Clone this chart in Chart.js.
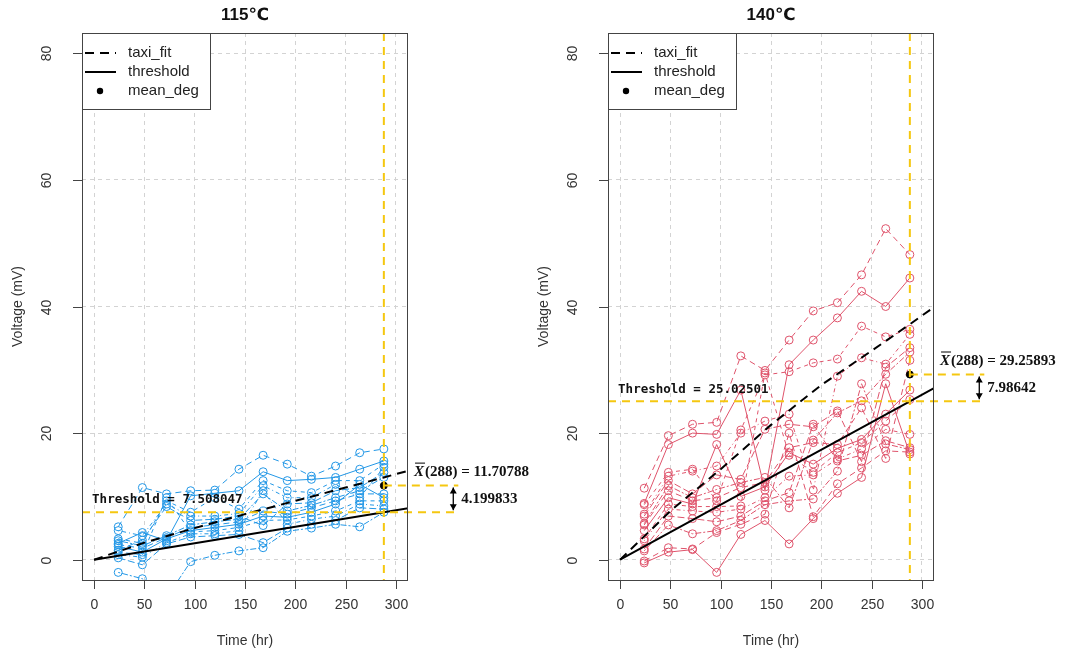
<!DOCTYPE html>
<html lang="en">
<head>
<meta charset="UTF-8">
<title>Degradation paths 115 / 140</title>
<script src="https://cdn.jsdelivr.net/npm/chart.js"></script>
<style>
  body { margin: 0; background: #fff; }
  #wrap { position: relative; width: 1075px; height: 659px; }
  canvas { position: absolute; top: 0; }
</style>
</head>
<body>
<div id="wrap">
  <canvas id="c115" width="549" height="659" style="left:0"></canvas>
  <canvas id="c140" width="549" height="659" style="left:526px"></canvas>
</div>
<script>
// measurement times and axis ticks
const times = [24, 48, 72, 96, 120, 144, 168, 192, 216, 240, 264, 288];
const xTicks = [0, 50, 100, 150, 200, 250, 300];
const yTicks = [0, 20, 40, 60, 80];

// 115 C degradation paths (one row per unit)
const paths115 = [
  [5.2, 11.4, 10.4, 10.9, 11.0, 14.3, 16.5, 15.1, 13.2, 14.8, 16.9, 17.5],
  [2.6, 4.3, 3.0, 10.1, 10.5, 10.9, 13.9, 12.5, 12.7, 13.0, 14.3, 15.6],
  [3.3, 2.6, 9.3, 7.5, 9.8, 8.0, 12.5, 10.9, 10.6, 12.5, 12.5, 15.1],
  [4.6, 3.8, 8.8, 6.9, 6.9, 7.3, 11.7, 9.8, 9.8, 11.9, 9.8, 14.6],
  [1.5, 3.1, 8.4, 6.2, 6.4, 6.9, 5.4, 8.8, 9.0, 10.9, 11.4, 13.8],
  [3.0, 2.2, 3.8, 5.5, 6.0, 6.4, 10.4, 7.7, 8.6, 9.8, 10.9, 13.0],
  [2.4, 1.8, 3.5, 5.1, 5.5, 6.0, 7.7, 7.2, 8.2, 9.3, 10.4, 10.4],
  [2.1, 1.2, 3.3, 4.6, 5.1, 5.6, 6.9, 6.7, 7.5, 8.8, 11.9, 9.8],
  [1.2, 0.8, 9.8, 4.4, 4.6, 5.1, 6.2, 6.3, 6.9, 7.7, 9.3, 9.3],
  [0.8, 0.4, 2.7, 4.1, 4.1, 4.6, 10.9, 5.6, 6.4, 6.9, 8.8, 8.5],
  [0.3, -0.8, 2.5, 3.6, 3.8, 4.0, 2.7, 5.0, 5.6, 6.2, 8.2, 8.0],
  [-2.0, -3.0, -6.0, -0.3, 0.7, 1.4, 1.9, 4.5, 5.0, 5.6, 5.2, 7.5]
];

// 140 C degradation paths
const paths140 = [
  [11.3, 19.6, 21.4, 21.7, 32.2, 29.9, 34.7, 39.3, 40.6, 45.0, 52.3, 48.2],
  [8.9, 18.2, 20.0, 19.8, 26.8, 11.0, 30.8, 34.7, 38.2, 42.4, 40.0, 44.5],
  [8.7, 13.8, 14.3, 9.3, 20.5, 29.2, 29.7, 31.1, 31.7, 36.9, 35.2, 36.4],
  [7.2, 13.2, 14.0, 14.8, 20.0, 21.9, 23.0, 11.0, 29.0, 31.9, 30.9, 35.6],
  [6.9, 12.5, 10.4, 13.4, 12.7, 20.6, 21.4, 21.0, 23.5, 15.5, 30.4, 33.5],
  [5.7, 11.7, 9.8, 11.1, 12.2, 13.0, 8.2, 18.9, 23.2, 25.1, 29.3, 32.8],
  [5.5, 10.9, 9.3, 9.8, 11.4, 12.2, 17.7, 18.5, 18.2, 24.0, 16.0, 31.5],
  [4.6, 9.8, 8.8, 18.2, 10.0, 11.5, 16.9, 15.1, 17.6, 19.0, 23.0, 26.8],
  [3.3, 8.8, 8.4, 8.4, 8.5, 29.5, 16.5, 13.8, 16.9, 18.5, 21.9, 25.3],
  [3.0, 8.0, 7.7, 7.5, 8.0, 9.8, 13.2, 13.4, 15.9, 17.5, 20.6, 19.8],
  [1.7, 6.9, 6.5, 6.0, 6.9, 9.3, 10.6, 21.4, 15.6, 16.5, 18.8, 17.7],
  [1.4, 5.5, 4.1, 4.6, 6.2, 8.7, 9.3, 9.6, 14.0, 27.8, 18.3, 17.4],
  [-0.2, 1.9, 1.7, 4.3, 5.6, 7.2, 20.0, 6.8, 12.0, 14.5, 17.2, 17.0],
  [-0.5, 1.2, 1.6, -2.0, 4.0, 6.2, 2.5, 6.5, 10.5, 13.0, 27.8, 16.7]
];

// fitted curves
const fitTimes = [0, 50, 100, 150, 200, 250, 288, 320];
const taxiFit115 = [0, 2.7, 5.0, 7.2, 9.3, 11.4, 13.0, 14.4];
const taxiFit140 = [0, 7.7, 14.3, 21.3, 27.6, 33.0, 37.2, 40.8];
const thrTimes = [0, 288, 320];
const threshold115 = [0, 7.508047, 8.34];
const threshold140 = [0, 25.02501, 27.81];

const meanTime = 288;
const meanDeg115 = 11.70788;
const meanDeg140 = 29.25893;

const ltys = [[6, 4], [], [4, 4], [1, 3, 4, 3], [7, 3], [2, 2, 6, 2]];

function pts(xs, ys) {
  return xs.map((t, i) => ({x: t, y: ys[i]}));
}

function decor(p) {
  return {
    id: 'decor',
    afterDatasetsDraw(chart) {
      const {ctx, chartArea: a, scales: {x, y}} = chart;
      const yel = '#F5C710';
      const xm = x.getPixelForValue(meanTime);
      const xe = x.getPixelForValue(362);
      const yt = y.getPixelForValue(p.thr[1]);
      const ym = y.getPixelForValue(p.mean);
      ctx.save();
      ctx.strokeStyle = yel;
      ctx.lineWidth = 2;
      ctx.setLineDash([8, 6]);
      ctx.beginPath();
      ctx.moveTo(xm, a.top); ctx.lineTo(xm, a.bottom);
      ctx.moveTo(a.left, yt); ctx.lineTo(xe, yt);
      ctx.moveTo(xm, ym); ctx.lineTo(xe, ym);
      ctx.stroke();

      // double arrow between mean and threshold
      const xa = x.getPixelForValue(357);
      ctx.setLineDash([]);
      ctx.strokeStyle = '#000';
      ctx.fillStyle = '#000';
      ctx.lineWidth = 1.3;
      ctx.beginPath();
      ctx.moveTo(xa, ym + 2); ctx.lineTo(xa, yt - 2);
      ctx.stroke();
      ctx.beginPath();
      ctx.moveTo(xa, ym + 2); ctx.lineTo(xa - 3.5, ym + 8); ctx.lineTo(xa + 3.5, ym + 8); ctx.closePath();
      ctx.moveTo(xa, yt - 2); ctx.lineTo(xa - 3.5, yt - 8); ctx.lineTo(xa + 3.5, yt - 8); ctx.closePath();
      ctx.fill();

      // texts
      ctx.fillStyle = '#111';
      ctx.textBaseline = 'middle';
      ctx.textAlign = 'left';
      ctx.font = 'bold 12.5px "DejaVu Sans Mono"';
      ctx.fillText('Threshold = ' + p.thrText, x.getPixelForValue(0) - 2, yt - 12);
      ctx.font = 'bold 15px "Liberation Serif"';
      ctx.fillText(p.diffText, x.getPixelForValue(365), (yt + ym) / 2);
      const xs = x.getPixelForValue(318);
      ctx.font = 'italic bold 15px "Liberation Serif"';
      const wX = ctx.measureText('X').width;
      ctx.fillText('X', xs, ym - 13);
      ctx.lineWidth = 1;
      ctx.beginPath();
      ctx.moveTo(xs + 1, ym - 22.5); ctx.lineTo(xs + wX + 1, ym - 22.5);
      ctx.stroke();
      ctx.font = 'bold 15px "Liberation Serif"';
      ctx.fillText('(288) = ' + p.meanText, xs + wX + 1, ym - 13);
      ctx.restore();
    },
    afterDraw(chart) {
      const {ctx, chartArea: a, scales: {x, y}} = chart;
      ctx.save();
      ctx.setLineDash([]);
      ctx.strokeStyle = '#444';
      ctx.lineWidth = 1;
      ctx.strokeRect(a.left + 0.5, a.top + 0.5, a.right - a.left - 1, a.bottom - a.top);
      ctx.fillStyle = '#333';
      ctx.font = '14px "Liberation Sans"';
      ctx.textAlign = 'center';
      ctx.textBaseline = 'middle';
      ctx.beginPath();
      xTicks.forEach(v => {
        const px = Math.round(x.getPixelForValue(v)) + 0.5;
        ctx.moveTo(px, a.bottom); ctx.lineTo(px, a.bottom + 9);
        ctx.fillText(String(v), px, a.bottom + 25);
      });
      yTicks.forEach(v => {
        const py = Math.round(y.getPixelForValue(v)) + 0.5;
        ctx.moveTo(a.left - 9, py); ctx.lineTo(a.left, py);
        ctx.save();
        ctx.translate(a.left - 35, py);
        ctx.rotate(-Math.PI / 2);
        ctx.fillText(String(v), 0, 0);
        ctx.restore();
      });
      ctx.stroke();

      // axis titles
      const cx = (a.left + a.right) / 2;
      ctx.fillText('Time (hr)', cx, a.bottom + 61);
      ctx.save();
      ctx.translate(a.left - 64, (a.top + a.bottom) / 2);
      ctx.rotate(-Math.PI / 2);
      ctx.fillText('Voltage (mV)', 0, 0);
      ctx.restore();

      // main title
      ctx.fillStyle = '#111';
      ctx.font = 'bold 17px "Liberation Sans", "DejaVu Sans"';
      ctx.fillText(p.title, cx, 15);

      // legend
      const lx = a.left, ly = a.top;
      ctx.fillStyle = '#fff';
      ctx.fillRect(lx + 1, ly + 1, 127, 75);
      ctx.strokeStyle = '#444';
      ctx.strokeRect(lx + 0.5, ly + 0.5, 128, 76);
      ctx.strokeStyle = '#000';
      ctx.lineWidth = 2;
      ctx.setLineDash([9, 6]);
      ctx.beginPath(); ctx.moveTo(lx + 3, ly + 20); ctx.lineTo(lx + 34, ly + 20); ctx.stroke();
      ctx.setLineDash([]);
      ctx.beginPath(); ctx.moveTo(lx + 3, ly + 39); ctx.lineTo(lx + 34, ly + 39); ctx.stroke();
      ctx.fillStyle = '#000';
      ctx.beginPath(); ctx.arc(lx + 18, ly + 58, 3.2, 0, Math.PI * 2); ctx.fill();
      ctx.fillStyle = '#222';
      ctx.font = '15px "Liberation Sans"';
      ctx.textAlign = 'left';
      ctx.fillText('taxi_fit', lx + 46, ly + 20);
      ctx.fillText('threshold', lx + 46, ly + 39);
      ctx.fillText('mean_deg', lx + 46, ly + 58);
      ctx.restore();
    }
  };
}

function makePanel(id, p) {
  const datasets = [
    {data: pts(fitTimes, p.fit), borderColor: '#000', borderWidth: 2, borderDash: [9, 6], pointRadius: 0},
    {data: pts(thrTimes, p.thr), borderColor: '#000', borderWidth: 2, pointRadius: 0},
    {data: [{x: meanTime, y: p.mean}], showLine: false, pointRadius: 3.5,
     pointBackgroundColor: '#000', pointBorderColor: '#000'}
  ];
  p.paths.forEach((v, i) => {
    datasets.push({
      data: pts(times, v),
      borderColor: p.color,
      borderWidth: 1,
      borderDash: ltys[i % ltys.length],
      pointRadius: 4,
      pointBorderWidth: 1,
      pointBorderColor: p.color,
      pointBackgroundColor: 'rgba(0,0,0,0)'
    });
  });
  datasets.forEach(d => { d.clip = 0; d.tension = 0; d.fill = false; });

  new Chart(document.getElementById(id), {
    type: 'line',
    data: {datasets: datasets},
    options: {
      responsive: false,
      animation: false,
      events: [],
      layout: {padding: {left: 0, right: 141, top: 33, bottom: 0}},
      plugins: {legend: {display: false}, tooltip: {enabled: false}},
      scales: {
        x: {
          type: 'linear', min: -12, max: 312,
          afterBuildTicks: s => { s.ticks = xTicks.map(v => ({value: v})); },
          afterFit: s => { s.height = 79; },
          grid: {color: '#d3d3d3', lineWidth: 1, drawTicks: false},
          border: {display: false, dash: [4, 4]},
          ticks: {display: false}
        },
        y: {
          type: 'linear', min: -3.2, max: 83.2,
          afterBuildTicks: s => { s.ticks = yTicks.map(v => ({value: v})); },
          afterFit: s => { s.width = 82; },
          grid: {color: '#d3d3d3', lineWidth: 1, drawTicks: false},
          border: {display: false, dash: [4, 4]},
          ticks: {display: false}
        }
      }
    },
    plugins: [decor(p)]
  });
}

makePanel('c115', {
  title: '115\u2103', color: '#2297E6', paths: paths115,
  fit: taxiFit115, thr: threshold115, mean: meanDeg115,
  thrText: '7.508047', meanText: '11.70788', diffText: '4.199833'
});
makePanel('c140', {
  title: '140\u2103', color: '#DF536B', paths: paths140,
  fit: taxiFit140, thr: threshold140, mean: meanDeg140,
  thrText: '25.02501', meanText: '29.25893', diffText: '7.98642'
});
</script>
</body>
</html>
